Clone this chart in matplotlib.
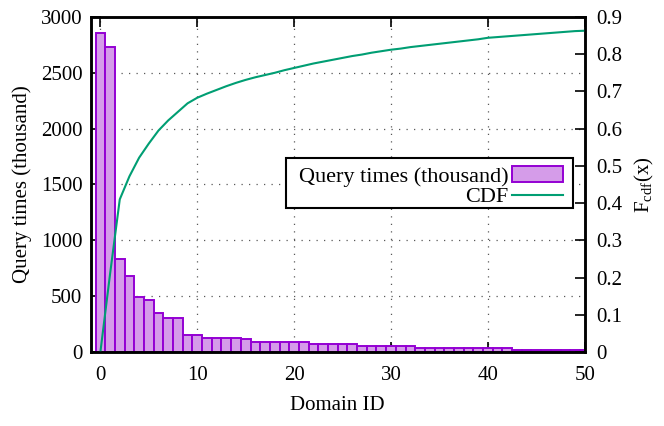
import matplotlib
matplotlib.use("Agg")
import matplotlib.pyplot as plt
import matplotlib.patches as patches

plt.rcParams['font.family'] = ['Liberation Serif', 'DejaVu Serif']
plt.rcParams['mathtext.fontset'] = 'custom'
plt.rcParams['mathtext.rm'] = 'Liberation Serif'

# query times per domain (thousand)
domain_ids = list(range(51))
query_times = [2860, 2730, 830, 683, 495, 463, 346, 302, 302, 155,
               155, 128, 128, 128, 128, 116, 87, 87, 87, 87,
               87, 87, 69, 69, 69, 69, 69, 54, 54, 54,
               54, 54, 54, 38, 38, 38, 38, 38, 38, 38,
               38, 38, 38, 21, 21, 21, 21, 21, 21, 21, 21]

# CDF curve values at each domain id
cdf_values = [0.0, 0.21, 0.41, 0.472, 0.522, 0.560, 0.595, 0.622, 0.645, 0.668,
              0.683, 0.694, 0.704, 0.714, 0.723, 0.731, 0.738, 0.744, 0.750, 0.757,
              0.763, 0.769, 0.775, 0.780, 0.785, 0.790, 0.795, 0.799, 0.804, 0.808,
              0.812, 0.815, 0.819, 0.822, 0.825, 0.828, 0.831, 0.834, 0.837, 0.840,
              0.844, 0.846, 0.848, 0.850, 0.852, 0.854, 0.856, 0.858, 0.860, 0.862,
              0.863]

x_ticks = [0, 10, 20, 30, 40, 50]
y1_ticks = [0, 500, 1000, 1500, 2000, 2500, 3000]
y2_ticks = [0, 0.1, 0.2, 0.3, 0.4, 0.5, 0.6, 0.7, 0.8, 0.9]
y2_labels = ['0', '0.1', '0.2', '0.3', '0.4', '0.5', '0.6', '0.7', '0.8', '0.9']

fig = plt.figure(figsize=(6.64, 4.26), dpi=100)
ax = fig.add_axes([0.1366, 0.1737, 0.744, 0.7865])
ax2 = ax.twinx()

bars = ax.bar(domain_ids, query_times, width=1.0, color='#d59ce9',
              edgecolor='#9400d3', linewidth=1.4, label='Query times (thousand)')
line, = ax2.plot(domain_ids, cdf_values, color='#009e73', linewidth=1.5, label='CDF')

ax.set_xlim(-1, 50)
ax.set_ylim(0, 3000)
ax2.set_ylim(0, 0.9)
ax.set_xticks(x_ticks)
ax.set_yticks(y1_ticks)
ax2.set_yticks(y2_ticks)
ax2.set_yticklabels(y2_labels)

ax.set_axisbelow(True)
ax.grid(True, linestyle=(0, (1, 5)), color='0.35', linewidth=0.9)

ax.tick_params(axis='x', direction='in', top=True, length=7, width=1.2,
               labelsize=15, pad=10)
ax.tick_params(axis='y', direction='in', right=False, length=7, width=1.2,
               labelsize=15, pad=6)
ax2.tick_params(axis='y', direction='in', length=7, width=1.2, labelsize=15, pad=8)

for a in (ax, ax2):
    for s in a.spines.values():
        s.set_linewidth(1.8)

ax.set_xlabel('Domain ID', fontsize=15, labelpad=8)
ax.set_ylabel('Query times (thousand)', fontsize=15, labelpad=6)
ax2.set_ylabel(r'F$_{\mathrm{cdf}}$(x)', fontsize=15, labelpad=8)

# legend box, gnuplot style: wide plain frame
box = patches.Rectangle((0.395, 0.430), 0.581, 0.149, transform=ax2.transAxes,
                        facecolor='white', edgecolor='black', linewidth=1.5,
                        zorder=4)
ax2.add_patch(box)

leg = ax2.legend([bars, line], ['Query times (thousand)', 'CDF'],
                 loc='upper right', bbox_to_anchor=(0.961, 0.561),
                 fontsize=16, markerfirst=False, frameon=False,
                 handlelength=2.3, borderpad=0.1, labelspacing=0.0,
                 handletextpad=0.15, borderaxespad=0)
leg.set_zorder(5)
leg._legend_box.align = 'right'

fig.savefig('out.png', dpi=100)
